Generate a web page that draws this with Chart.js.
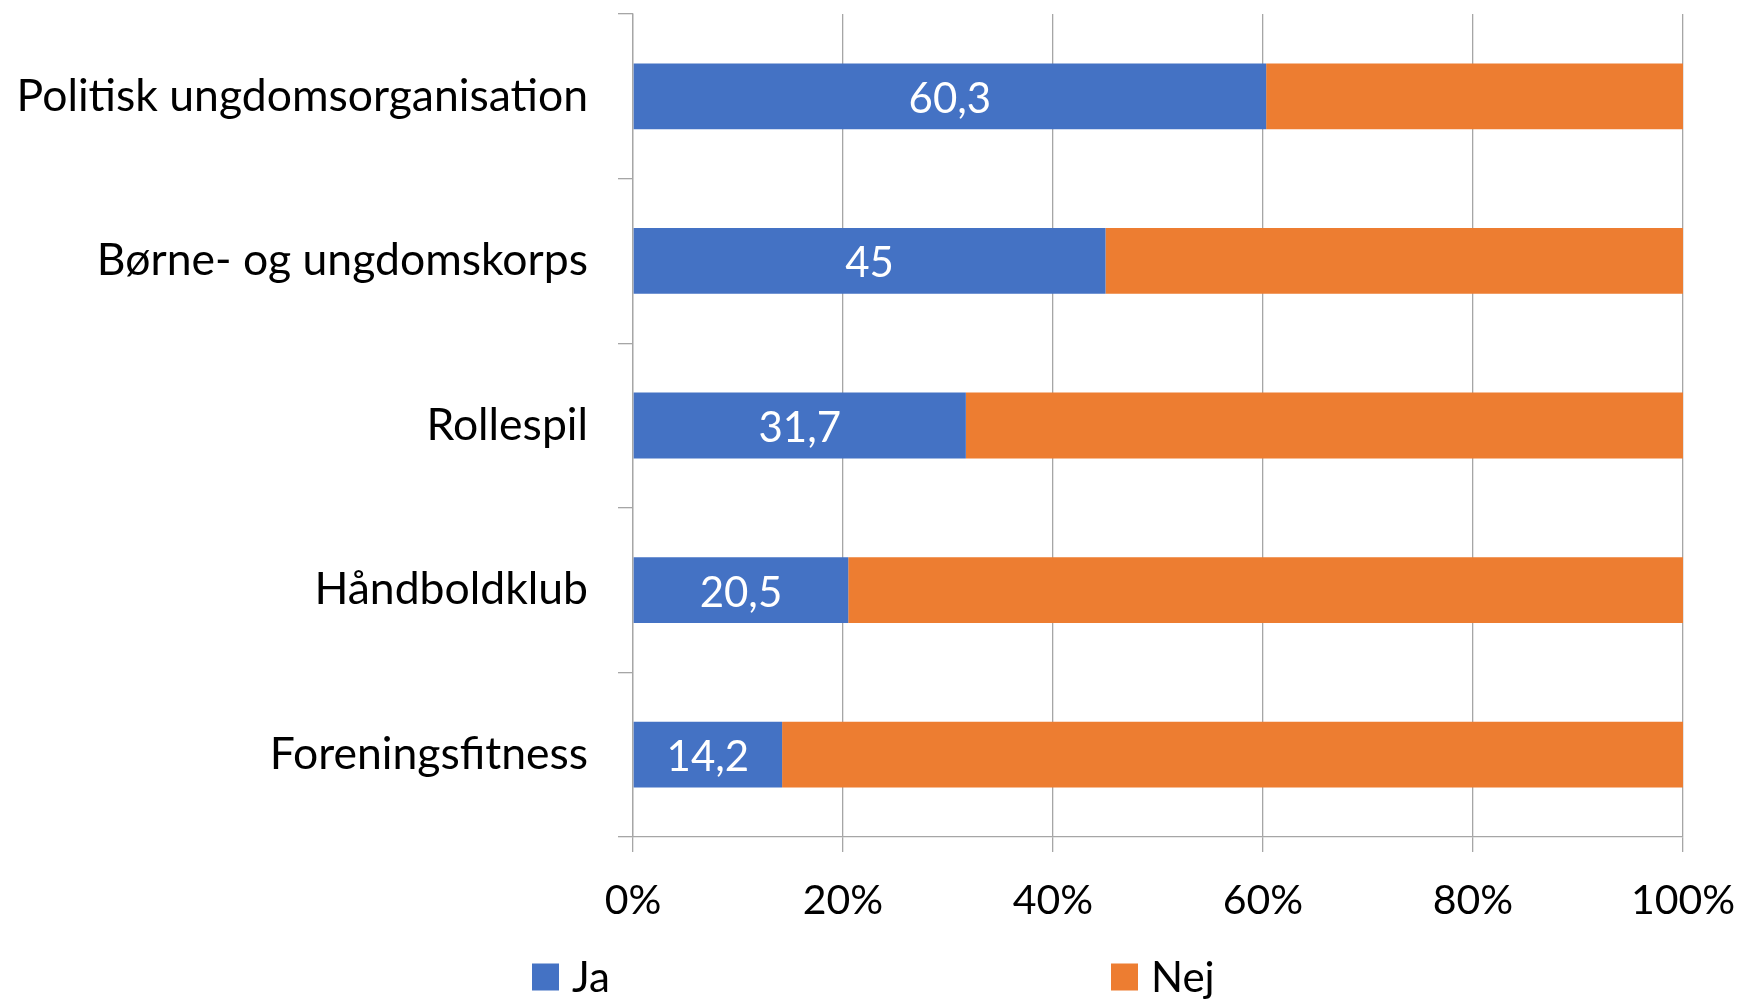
<!DOCTYPE html>
<html>
<head>
<meta charset="utf-8">
<script src="https://cdn.jsdelivr.net/npm/chart.js@4/dist/chart.umd.min.js"></script>
<style>
html,body{margin:0;padding:0;background:#fff;}
#wrap{width:1745px;height:1000px;position:relative;}
</style>
</head>
<body>
<div id="wrap"><canvas id="c" width="1745" height="1000"></canvas></div>
<script>
const categories = ["Politisk ungdomsorganisation", "Børne- og ungdomskorps", "Rollespil", "Håndboldklub", "Foreningsfitness"];
const jaValues = [60.3, 45, 31.7, 20.5, 14.2];
const nejValues = [39.7, 55, 68.3, 79.5, 85.8];
const jaLabels = ["60,3", "45", "31,7", "20,5", "14,2"];
const xTicks = [0, 20, 40, 60, 80, 100];
const seriesNames = ["Ja", "Nej"];

const FONT = "Lato";
const gridColor = "#a6a6a6";

const valueLabelPlugin = {
  id: 'valueLabels',
  afterDatasetsDraw(chart) {
    const ctx = chart.ctx;
    const meta = chart.getDatasetMeta(0);
    ctx.save();
    ctx.fillStyle = '#ffffff';
    ctx.font = '42px ' + FONT;
    ctx.textAlign = 'center';
    ctx.textBaseline = 'middle';
    meta.data.forEach((bar, i) => {
      const cx = (bar.x + bar.base) / 2;
      ctx.fillText(jaLabels[i], cx, bar.y + 3);
    });
    ctx.restore();
  }
};

// legend drawn from the chart's datasets, spaced like the original
const legendPlugin = {
  id: 'spacedLegend',
  afterDraw(chart) {
    const ctx = chart.ctx;
    const starts = [532, 1111];
    const cy = 977;
    ctx.save();
    ctx.font = '42px ' + FONT;
    ctx.textBaseline = 'middle';
    ctx.textAlign = 'left';
    chart.data.datasets.forEach((ds, i) => {
      ctx.fillStyle = ds.backgroundColor;
      ctx.fillRect(starts[i], cy - 13.5, 27, 27);
      ctx.fillStyle = '#000';
      ctx.fillText(ds.label, starts[i] + 40, cy + 1);
    });
    ctx.restore();
  }
};

new Chart(document.getElementById('c'), {
  type: 'bar',
  data: {
    labels: categories,
    datasets: [
      { label: seriesNames[0], data: jaValues, backgroundColor: '#4472C4', barPercentage: 0.4, categoryPercentage: 1.0 },
      { label: seriesNames[1], data: nejValues, backgroundColor: '#ED7D31', barPercentage: 0.4, categoryPercentage: 1.0 }
    ]
  },
  options: {
    indexAxis: 'y',
    responsive: false,
    animation: false,
    layout: { padding: { top: 14, right: 62, left: 0, bottom: 63 } },
    scales: {
      x: {
        stacked: true,
        min: 0, max: 100,
        afterBuildTicks(scale) { scale.ticks = xTicks.map(v => ({ value: v })); },
        afterFit(scale) { scale.height = 100; scale.paddingLeft = 0; scale.paddingRight = 0; },
        ticks: {
          callback: v => v + '%',
          color: '#000',
          font: { family: FONT, size: 41 },
          padding: 24,
          maxRotation: 0
        },
        grid: { color: gridColor, lineWidth: 1.3, tickLength: 15, drawTicks: true },
        border: { color: gridColor, width: 1.3 }
      },
      y: {
        stacked: true,
        afterFit(scale) { scale.width = 633; scale.paddingTop = 0; scale.paddingBottom = 0; },
        ticks: {
          color: '#000',
          font: { family: FONT, size: 44.5 },
          padding: 30
        },
        grid: { color: gridColor, lineWidth: 1.3, tickLength: 15, drawOnChartArea: false, offset: true },
        border: { color: gridColor, width: 1.3 }
      }
    },
    plugins: {
      legend: { display: false },
      tooltip: { enabled: false }
    }
  },
  plugins: [valueLabelPlugin, legendPlugin]
});
</script>
</body>
</html>
